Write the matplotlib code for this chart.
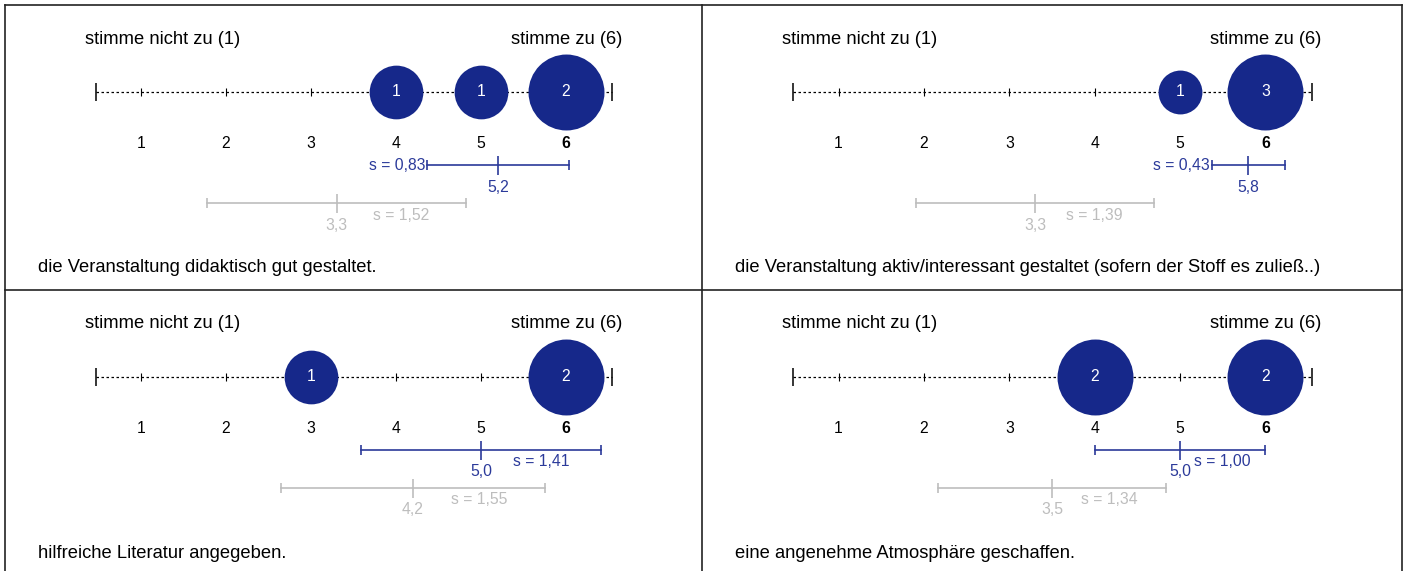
import matplotlib.pyplot as plt
from matplotlib.lines import Line2D

plt.rcParams['font.family'] = ['Liberation Sans', 'DejaVu Sans']

# answer scale 1..6
scale = [1, 2, 3, 4, 5, 6]

titles = [
    'die Veranstaltung didaktisch gut gestaltet.',
    'die Veranstaltung aktiv/interessant gestaltet (sofern der Stoff es zuließ..)',
    'hilfreiche Literatur angegeben.',
    'eine angenehme Atmosphäre geschaffen.',
]
# number of answers per scale value
counts = [
    [0, 0, 0, 1, 1, 2],
    [0, 0, 0, 0, 1, 3],
    [0, 0, 1, 0, 0, 2],
    [0, 0, 0, 2, 0, 2],
]
# this course
mean_course = [5.2, 5.8, 5.0, 5.0]
sd_course = [0.83, 0.43, 1.41, 1.00]
# comparison (all courses)
mean_ref = [3.3, 3.3, 4.2, 3.5]
sd_ref = [1.52, 1.39, 1.55, 1.34]

BLUE = '#16288a'
BLUE_L = '#2b3a9a'
GREY = '#bdbdbd'

W, H = 1404, 571
fig = plt.figure(figsize=(W / 100, H / 100), dpi=100)

# panel boxes in pixels: left, top, right
boxes = [(5, 5, 702), (702, 5, 1402), (5, 290, 702), (702, 290, 1402)]
s_left = [True, True, False, False]

PH = 285
FS_BIG = 13.2
FS = 11.3
for i, (x0, y0, x1) in enumerate(boxes):
    ax = fig.add_axes([x0 / W, 1 - (y0 + PH) / H, (x1 - x0) / W, PH / H])
    ax.set_xlim(-0.6, 7.6)
    ax.set_ylim(PH, 0)
    ax.axis('off')
    px = 8.2 / (x1 - x0)  # data units per pixel

    ya = 87
    ax.plot([0.47, 6.54], [ya, ya], ls=(0, (2, 2)), color='black', lw=0.9, zorder=1)
    ax.vlines([0.47, 6.54], ya - 9, ya + 9, color='black', lw=1.1)
    ax.vlines(scale, ya - 4, ya + 4, color='black', lw=0.8)
    ax.text(0.47 - 11 * px, 34, 'stimme nicht zu (1)', fontsize=FS_BIG, ha='left', va='center')
    ax.text(6.54 + 10 * px, 34, 'stimme zu (6)', fontsize=FS_BIG, ha='right', va='center')
    for v in scale:
        ax.text(v, 139, str(v), fontsize=FS, ha='center', va='center',
                fontweight='bold' if v == 6 else 'normal')

    cmax = max(counts[i])
    for v, c in zip(scale, counts[i]):
        if c == 0:
            continue
        ax.scatter([v], [ya], s=2990 * c / cmax, color=BLUE, linewidths=0, zorder=3)
        ax.text(v, ya, str(c), color='white', fontsize=FS, ha='center', va='center', zorder=4)

    # mean +- sd bars
    for m, sd, yb, col, left in [(mean_course[i], sd_course[i], 160, BLUE_L, s_left[i]),
                                 (mean_ref[i], sd_ref[i], 198, GREY, False)]:
        ax.plot([m - sd, m + sd], [yb, yb], color=col, lw=1.2)
        ax.vlines([m - sd, m + sd], yb - 5, yb + 5, color=col, lw=1.2)
        ax.vlines(m, yb - 9, yb + 10, color=col, lw=1.2)
        ax.text(m, yb + 22, f'{m:.1f}'.replace('.', ','), color=col, fontsize=FS,
                ha='center', va='center')
        lab = 's = ' + f'{sd:.2f}'.replace('.', ',')
        if left:
            ax.text(m - sd - 2 * px, yb, lab, color=col, fontsize=FS, ha='right', va='center')
        else:
            ax.text(m + sd / 2, yb + 12, lab, color=col, fontsize=FS, ha='center', va='center')

    ax.text(0.47 - 58 * px, 263, titles[i], fontsize=FS_BIG, ha='left', va='center')

# panel frame
fl = dict(color='#222222', lw=1.2, transform=fig.transFigure)
for xs, ys in [([5, 1402], [5, 5]), ([5, 5], [5, 571]), ([1402, 1402], [5, 571]),
               ([702, 702], [5, 571]), ([5, 1402], [290, 290])]:
    fig.add_artist(Line2D([x / W for x in xs], [1 - y / H for y in ys], **fl))

fig.savefig('out.png', dpi=100)
